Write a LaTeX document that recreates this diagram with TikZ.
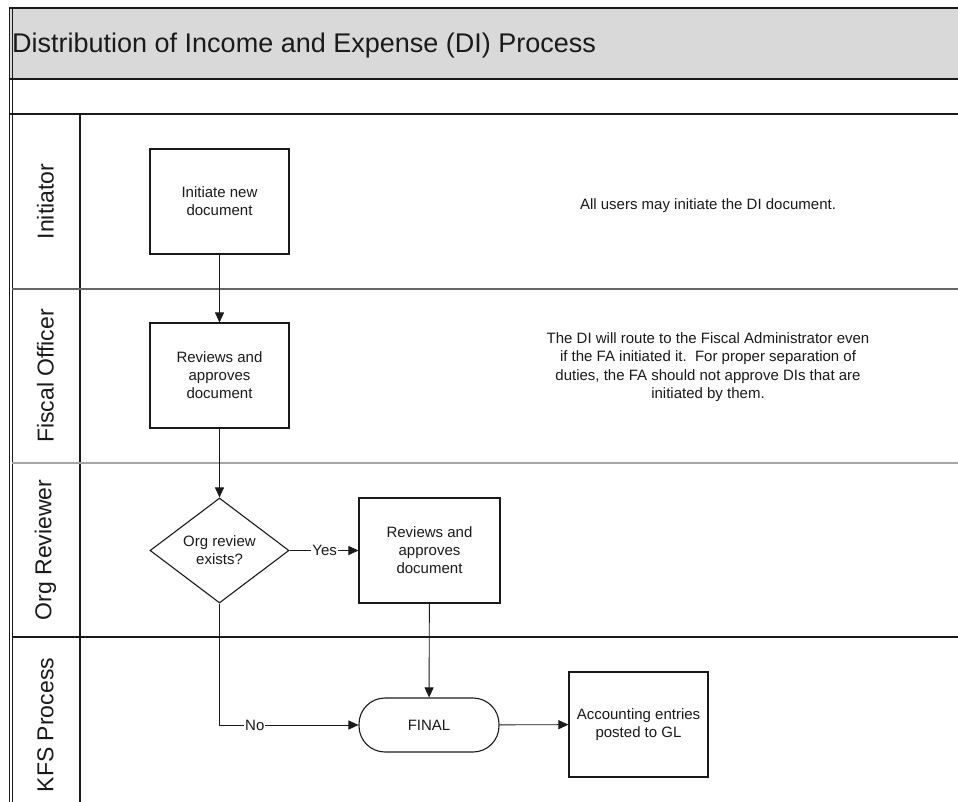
\documentclass[tikz,border=0pt]{standalone}
\usepackage{fontspec}
\setmainfont{Liberation Sans}
\usetikzlibrary{arrows.meta,shapes.geometric}
\definecolor{band}{HTML}{D9D9D9}
\definecolor{ink}{HTML}{1A1A1A}
\begin{document}
\begin{tikzpicture}[x=1pt,y=-1pt,
  box/.style={draw=ink, line width=1.1pt, minimum width=139pt, minimum height=105pt, inner sep=2pt, align=center, font=\fontsize{15}{18}\selectfont, text=ink},
  decision/.style={diamond, aspect=1.32, draw=ink, line width=1.1pt, minimum width=139pt, minimum height=105pt, inner sep=0pt, align=center, font=\fontsize{15}{18}\selectfont, text=ink},
  terminal/.style={draw=ink, line width=1.1pt, rounded corners=26pt, minimum width=140pt, minimum height=54pt, align=center, font=\fontsize{15}{18}\selectfont, text=ink},
  note/.style={align=center, font=\fontsize{15}{18.5}\selectfont, text=ink},
  lane/.style={rotate=90, font=\fontsize{23}{27}\selectfont, text=ink},
  conn/.style={draw=ink, line width=0.9pt, -{Triangle[length=10pt,width=9pt]}},
  lbl/.style={fill=white, inner sep=1pt, font=\fontsize{15}{18}\selectfont, text=ink}
]
\useasboundingbox (0,0) rectangle (958,802);
% title band
\fill[band] (10,8) rectangle (958,79);
\draw[ink, line width=1.5pt] (9,8) -- (958,8);
\draw[ink, line width=1.3pt] (10,79) -- (958,79);
\draw[ink, line width=1.3pt] (10,114) -- (958,114);
\node[anchor=base west, font=\fontsize{27}{32}\selectfont, text=ink, inner sep=0pt] (title) at (12,53) {Distribution of Income and Expense (DI) Process};
% left border (double)
\draw[ink, line width=1pt] (9,8) -- (9,802);
\draw[ink, line width=1pt] (12,8) -- (12,802);
% header column
\draw[ink, line width=1.1pt] (80,114) -- (80,802);
% lane separators
\draw[black!60, line width=1.2pt] (12,289) -- (958,289);
\draw[black!35, line width=1.2pt] (12,463) -- (958,463);
\draw[ink, line width=1.3pt] (12,637) -- (958,637);
% lane labels
\node[lane] (l1) at (45.5,201.5) {Initiator};
\node[lane] (l2) at (45.5,376) {Fiscal Officer};
\node[lane] (l3) at (45.5,550) {Org Reviewer};
\node[lane] (l4) at (45.5,725) {KFS Process};
% nodes
\node[box] (init) at (219.5,201.5) {Initiate new\\document};
\node[box] (fo) at (219.5,375.5) {Reviews and\\approves\\document};
\node[decision] (dia) at (219.5,550.5) {Org review\\exists?};
\node[box, minimum width=141pt] (orb) at (429.5,550.5) {Reviews and\\approves\\document};
\node[terminal] (final) at (429,725) {FINAL};
\node[box] (acc) at (638.5,724.5) {Accounting entries\\posted to GL};
% notes
\node[note] (n1) at (708,206) {All users may initiate the DI document.};
\node[note] (n2) at (708,367) {The DI will route to the Fiscal Administrator even\\if the FA initiated it.\ \ For proper separation of\\duties, the FA should not approve DIs that are\\initiated by them.};
% connectors
\draw[conn] (init) -- (fo);
\draw[conn] (fo) -- (dia);
\draw[conn] (dia.east) -- node[lbl, pos=0.51] {Yes} (orb.west);
\draw[conn] (orb) -- (final);
\draw[conn] (dia.south) |- node[lbl, pos=0.627] {No} (final.west);
\draw[conn] (final) -- (acc);
\end{tikzpicture}
\end{document}
